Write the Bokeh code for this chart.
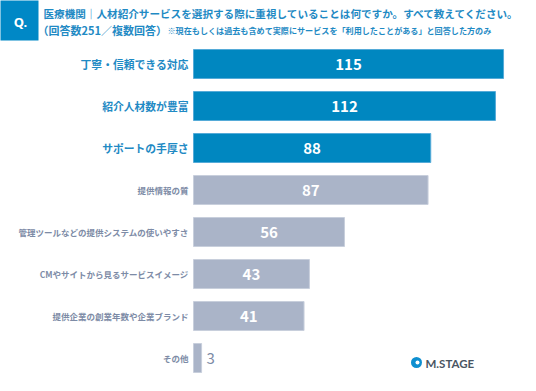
from bokeh.plotting import figure
from bokeh.models import Range1d, ColumnDataSource
from bokeh.core.properties import value
from bokeh.embed import file_html
from bokeh.resources import INLINE

# ---- data ----
categories = [
    "丁寧・信頼できる対応",
    "紹介人材数が豊富",
    "サポートの手厚さ",
    "提供情報の質",
    "管理ツールなどの提供システムの使いやすさ",
    "CMやサイトから見るサービスイメージ",
    "提供企業の創業年数や企業ブランド",
    "その他",
]
counts = [115, 112, 88, 87, 56, 43, 41, 3]
highlight_n = 3
title_line1 = "医療機関｜人材紹介サービスを選択する際に重視していることは何ですか。すべて教えてください。"
title_line2 = "（回答数251／複数回答）"
title_note = "※現在もしくは過去も含めて実際にサービスを「利用したことがある」と回答した方のみ"
brand = "M.STAGE"

# ---- layout ----
W, H = 520, 375
PX = 2.696      # pixels per count
X0 = 193        # pixel x for count 0
ROW = 42        # pixels between bars
Y0 = 63.5       # pixel y of first bar centre

def fx(px):
    return (px - X0) / PX

def fy(py):
    return (py - Y0) / ROW

JP = "Noto Sans CJK JP"
BLUE = "#0087c0"
BLUE_TXT = "#1f8ac4"
GREY = "#aab4c8"
GREY_TXT = "#7d8ba6"

p = figure(width=W, height=H, output_backend="svg", toolbar_location=None,
           x_range=Range1d(fx(0), fx(W)), y_range=Range1d(fy(H), fy(0)),
           min_border=0, outline_line_color=None, background_fill_color="white",
           border_fill_color="white")
p.xaxis.visible = False
p.yaxis.visible = False
p.grid.visible = False

idx = list(range(len(categories)))
colors = [BLUE if i < highlight_n else GREY for i in idx]
edges = ["#55abd8" if i < highlight_n else "#c8cfdc" for i in idx]
src = ColumnDataSource(dict(y=idx, v=counts, c=colors, e=edges))
p.hbar(y="y", left=0, right="v", height=29 / ROW, fill_color="c", line_color="e",
       line_width=1, source=src)

# category labels
hi = ColumnDataSource(dict(y=idx[:highlight_n], cat=categories[:highlight_n]))
lo = ColumnDataSource(dict(y=idx[highlight_n:], cat=categories[highlight_n:]))
p.text(x=0, y="y", text="cat", source=hi, x_offset=-5, text_align="right",
       text_baseline="middle", text_font=value(JP), text_font_size="10.8px",
       text_font_style="bold", text_color=BLUE_TXT)
p.text(x=0, y="y", text="cat", source=lo, x_offset=-5, text_align="right",
       text_baseline="middle", text_font=value(JP), text_font_size="8.5px",
       text_font_style="bold", text_color=GREY_TXT)

# value labels
inside = [i for i in idx if counts[i] >= 10]
outside = [i for i in idx if counts[i] < 10]
ins = ColumnDataSource(dict(y=inside, x=[counts[i] / 2 for i in inside],
                            lab=[str(counts[i]) for i in inside]))
outs = ColumnDataSource(dict(y=outside, x=[counts[i] for i in outside],
                             lab=[str(counts[i]) for i in outside]))
p.text(x="x", y="y", text="lab", source=ins, text_align="center", text_baseline="middle",
       text_font=value(JP), text_font_size="15px", text_font_style="bold", text_color="white")
p.text(x="x", y="y", text="lab", source=outs, x_offset=5, text_align="left",
       text_baseline="middle", text_font=value(JP), text_font_size="15px",
       text_color=GREY_TXT)

# header
p.quad(left=fx(-2), right=fx(38), top=fy(-2), bottom=fy(40), fill_color="#0088c6",
       line_color=None)
p.text(x=fx(20), y=fy(21), text=["Q."], text_align="center", text_baseline="middle",
       text_font=value("Noto Sans"), text_font_size="13px", text_font_style="bold",
       text_color="white")
p.text(x=fx(43), y=fy(13), text=[title_line1], text_align="left", text_baseline="middle",
       text_font=value(JP), text_font_size="10.6px", text_font_style="bold",
       text_color=BLUE_TXT)
p.text(x=fx(37), y=fy(29), text=[title_line2], text_align="left", text_baseline="middle",
       text_font=value(JP), text_font_size="11px", text_font_style="bold",
       text_color=BLUE_TXT)
p.text(x=fx(167), y=fy(29.5), text=[title_note], text_align="left", text_baseline="middle",
       text_font=value(JP), text_font_size="8.1px", text_font_style="bold",
       text_color=BLUE_TXT)

# brand logo
p.scatter(x=[fx(416)], y=[fy(362)], size=11, marker="circle", fill_color="#0e8fd0",
          line_color=None)
p.scatter(x=[fx(417)], y=[fy(362)], size=4, marker="circle", fill_color="white",
          line_color=None)
p.text(x=fx(425), y=fy(362.5), text=[brand], text_align="left", text_baseline="middle",
       text_font=value("Lato"), text_font_size="11.5px", text_font_style="bold",
       text_color="#4a5563")

open("out.html", "w").write(file_html(p, INLINE))
